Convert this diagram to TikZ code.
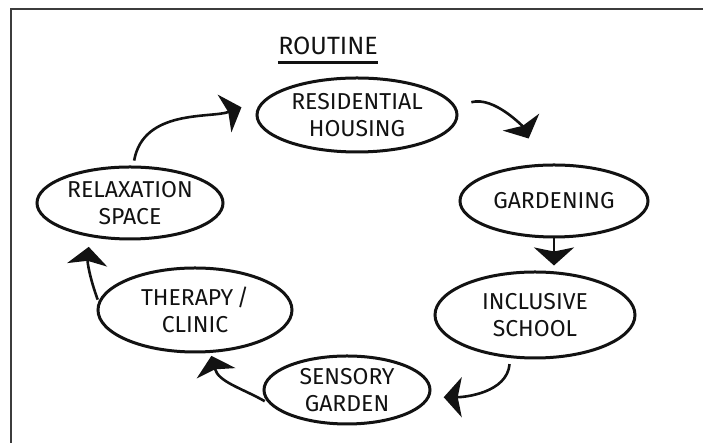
\documentclass[tikz,border=0pt]{standalone}
\usepackage{fontspec}
\setmainfont{Fira Sans}
\usepackage{tikz}
\usetikzlibrary{
  arrows.meta, positioning, shapes.geometric
}
\definecolor{ink}{HTML}{121212}
\definecolor{edge}{HTML}{3C3C3C}
\tikzset{
  >={Stealth[length=9pt,width=20pt,inset=2pt]},
  font=\fontsize{11.5}{13.5}\selectfont,
  bubble/.style={
    ellipse, draw=ink, line width=1.5pt, align=center, inner sep=0pt,
    text=ink, minimum width=#1
  },
  bubble/.default=95pt,
  flow/.style={->, line width=1.3pt, draw=ink},
  ttl/.style={font=\fontsize{12.5}{14}\selectfont, text=ink, inner sep=0pt}
}

\begin{document}
\begin{tikzpicture}[x=0.5pt,y=0.5pt]
  \useasboundingbox (0,0) rectangle (703,443);
  \draw[edge,line width=1.1pt] (11,0) -- (11,434) -- (703,434);
  \node[ttl] (title) at (328,397) {ROUTINE};
  \draw[ink,line width=1.3pt] ([yshift=-3.5pt]title.south west) -- ([yshift=-3.5pt]title.south east);
  \node[bubble=100pt,minimum height=37pt] (res) at (357,328) {RESIDENTIAL\\HOUSING};
  \node[bubble=94pt,minimum height=36pt] (gar) at (554,242) {GARDENING};
  \node[bubble=100pt,minimum height=43pt] (inc) at (535,128) {INCLUSIVE\\SCHOOL};
  \node[bubble=83pt,minimum height=34pt] (sen) at (347,53) {SENSORY\\GARDEN};
  \node[bubble=97pt,minimum height=42pt] (the) at (195,133) {THERAPY\,/\\CLINIC};
  \node[bubble=93pt,minimum height=36pt] (rel) at (130,240) {RELAXATION\\SPACE};
  \draw[flow,shorten <=2.5pt,shorten >=12.5pt] (rel.85) to[out=80,in=200] (res.170);
  \draw[flow,shorten <=8pt,shorten >=14pt] (res.5) to[out=15,in=115] (gar.110);
  \draw[flow,shorten >=2.5pt] (gar.south) -- (gar.south |- inc.north);
  \draw[flow,shorten <=3pt,shorten >=7pt] (inc.240) to[out=265,in=0] (sen.-5);
  \draw[flow,shorten <=2.5pt,shorten >=1.5pt] (sen.190) to[out=150,in=-75] (the.-70);
  \draw[flow,shorten <=1pt,shorten >=5pt] (the.175) to[out=110,in=-95] (rel.-140);
\end{tikzpicture}
\end{document}
